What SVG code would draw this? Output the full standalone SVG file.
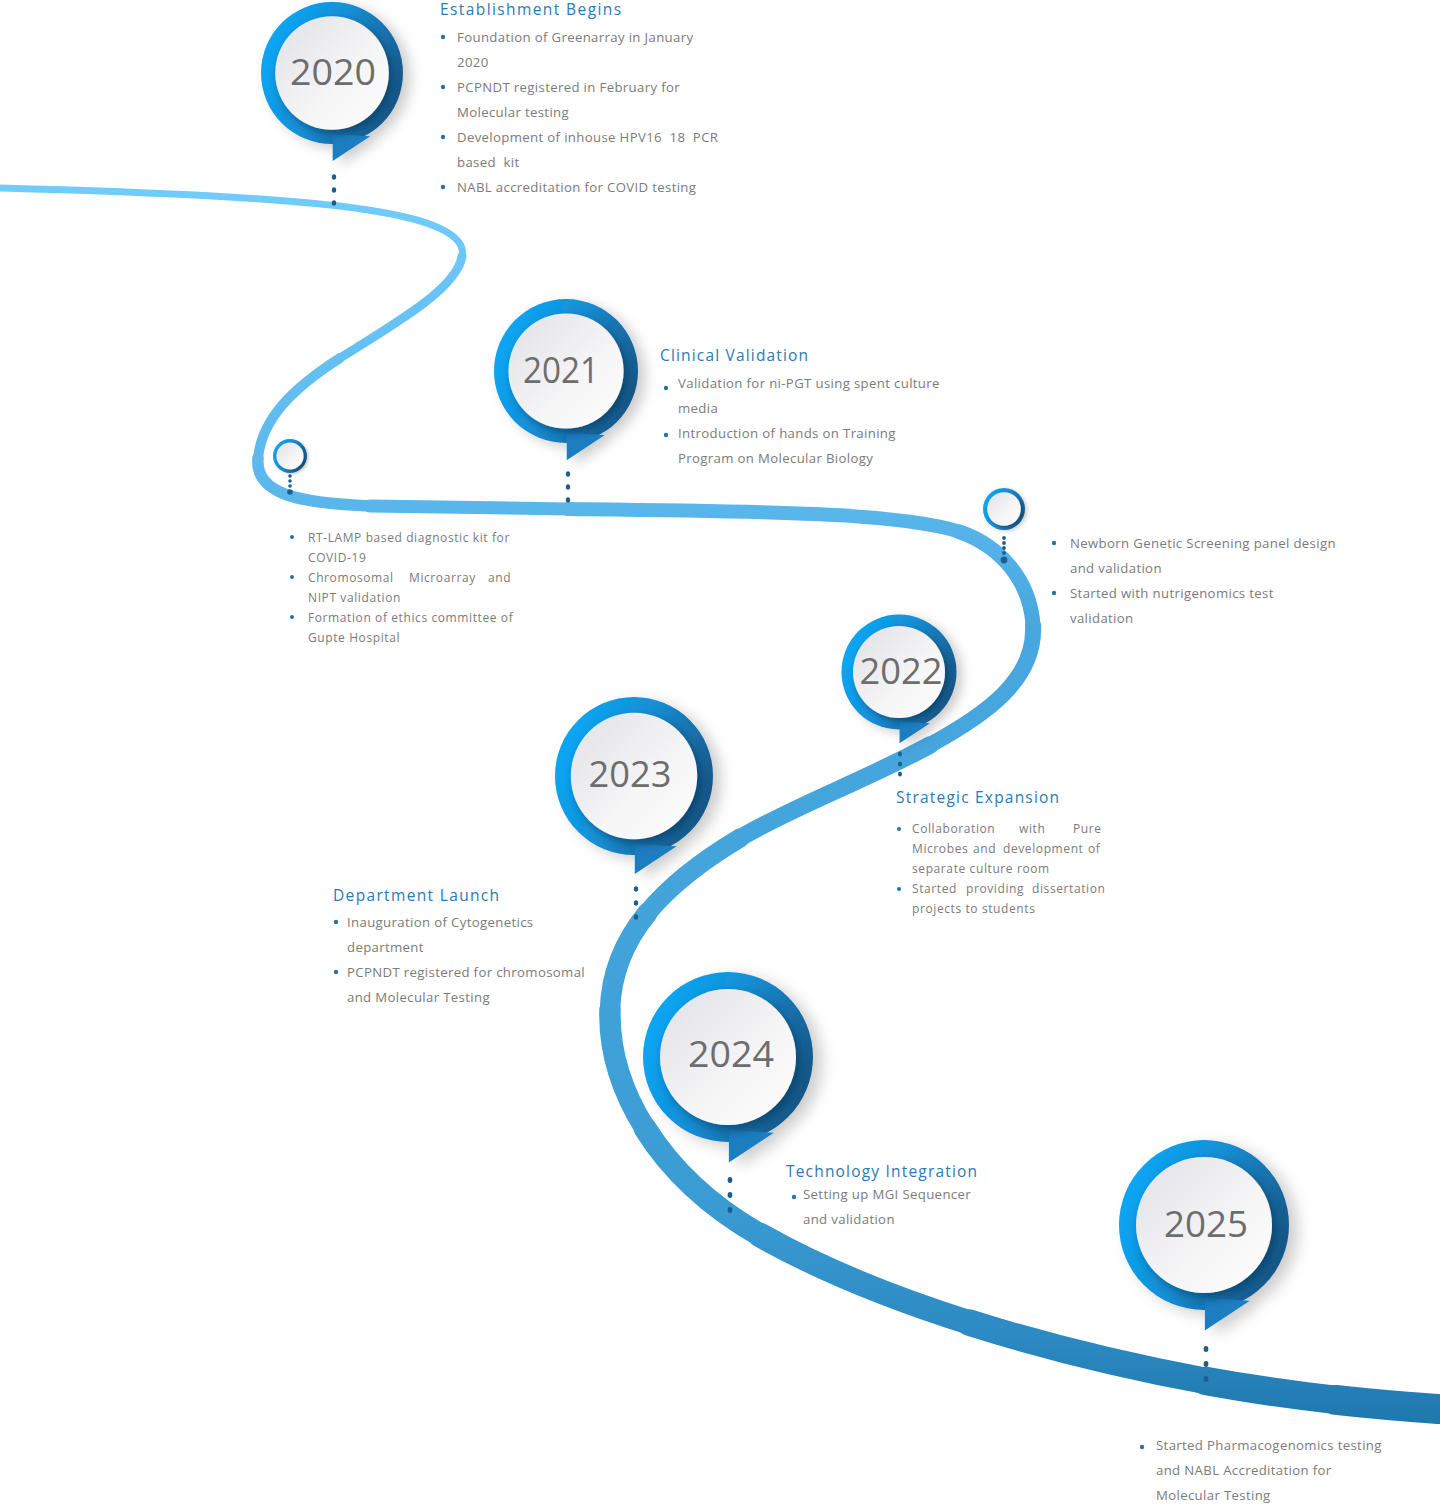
<svg xmlns="http://www.w3.org/2000/svg" xmlns:xlink="http://www.w3.org/1999/xlink" width="1440" height="1508" viewBox="0 0 1440 1508">
<defs>
  <style>
    .title{font-family:"Open Sans","Liberation Sans",sans-serif;font-size:15.5px;fill:#2b7ab4;letter-spacing:0.9px}
    .body{font-family:"Open Sans","Liberation Sans",sans-serif;font-size:13.2px;fill:#7b7b7b;letter-spacing:0.35px}
    .small{font-family:"Open Sans","Liberation Sans",sans-serif;font-size:12px;fill:#7b7b7b;letter-spacing:0.6px}
    .year{font-family:"Open Sans","Liberation Sans",sans-serif;font-size:36px;fill:#6d6d6d;text-anchor:middle}
    .bul{fill:#2472aa}
    .dot{fill:#1e5e8e}
    .road{fill:none;stroke:url(#roadGrad);stroke-linecap:round}
  </style>
  <linearGradient id="roadGrad" gradientUnits="userSpaceOnUse" x1="0" y1="180" x2="0" y2="1420">
    <stop offset="0" stop-color="#72ccfb"/>
    <stop offset="0.266" stop-color="#59b6eb"/>
    <stop offset="0.36" stop-color="#47a7de"/>
    <stop offset="0.6" stop-color="#43a4db"/>
    <stop offset="0.82" stop-color="#3b9cd4"/>
    <stop offset="0.93" stop-color="#2d8ac3"/>
    <stop offset="1" stop-color="#1f78ae"/>
  </linearGradient>
  <linearGradient id="ringGrad" x1="0" y1="0.3" x2="1" y2="0.7">
    <stop offset="0" stop-color="#05a8f7"/>
    <stop offset="0.45" stop-color="#168fd5"/>
    <stop offset="0.75" stop-color="#1a6ea8"/>
    <stop offset="1" stop-color="#155382"/>
  </linearGradient>
  <linearGradient id="faceGrad" x1="0" y1="0" x2="1" y2="1">
    <stop offset="0" stop-color="#e1e1e6"/>
    <stop offset="0.6" stop-color="#f6f6f7"/>
    <stop offset="1" stop-color="#fdfdfd"/>
  </linearGradient>
  <filter id="pinShadow" x="-40%" y="-40%" width="190%" height="190%">
    <feDropShadow dx="10" dy="6" stdDeviation="9" flood-color="#000" flood-opacity="0.2"/>
  </filter>
  <filter id="innerShadow" x="-30%" y="-30%" width="170%" height="170%">
    <feDropShadow dx="5" dy="6" stdDeviation="6" flood-color="#06304f" flood-opacity="0.55"/>
  </filter>
  <g id="pin">
    <g filter="url(#pinShadow)">
      <circle r="100" fill="url(#ringGrad)"/>
      <path d="M1,86 L1,124 L54,89 Z" fill="#1a7ec0"/>
    </g>
    <circle r="80" fill="url(#faceGrad)" filter="url(#innerShadow)"/>
  </g>
  <g id="mini">
    <circle r="100" fill="url(#ringGrad)" filter="url(#pinShadow)"/>
    <circle r="80" fill="url(#faceGrad)" filter="url(#innerShadow)"/>
  </g>
</defs>
<rect width="1440" height="1508" fill="#ffffff"/>

<g id="connectors">
  <path class="road" stroke-width="7" d="M0,188 C150,192 300,198 380,212 C440,222 466,238 462,256"/>
  <path class="road" stroke-width="9" d="M462,256 C458,285 410,315 340,358"/>
  <path class="road" stroke-width="10" d="M340,358 C290,390 262,420 258,458"/>
  <path class="road" stroke-width="11.5" d="M258,458 C255,495 300,503 370,506"/>
  <path class="road" stroke-width="13" d="M370,506 L568,509"/>
  <path class="road" stroke-width="14" d="M568,509 C750,511 900,512 960,532"/>
  <path class="road" stroke-width="15" d="M960,532 C1000,546 1030,580 1033,625"/>
  <path class="road" stroke-width="16" d="M1033,625 C1036,680 985,715 930,745"/>
  <path class="road" stroke-width="17.5" d="M930,745 C870,778 790,808 740,838"/>
  <path class="road" stroke-width="19" d="M740,838 C702.5,860.5 670.5,884.75 647.6,912.75"/>
  <path class="road" stroke-width="20.5" d="M647.6,912.75 C624.75,940.75 611,972.5 610,1010"/>
  <path class="road" stroke-width="21.5" d="M610,1010 C609,1047.5 620.25,1088.75 644.9,1128.1"/>
  <path class="road" stroke-width="23" d="M644.9,1128.1 C669.5,1167.5 707.5,1205 760,1235"/>
  <path class="road" stroke-width="24.5" d="M760,1235 C820,1269 892.5,1298.25 969.5,1322.6"/>
  <path class="road" stroke-width="26.5" d="M969.5,1322.6 C1046.5,1347 1128,1366.5 1206,1381"/>
  <path class="road" stroke-width="28.5" d="M1206,1381 C1253,1389.5 1296.5,1395.5 1335.5,1399.9"/>
  <path class="road" stroke-width="30" stroke-linecap="butt" d="M1335.5,1399.9 C1374.5,1404.25 1409,1407 1438,1409"/>
  <g class="dot">
    <ellipse cx="334" cy="177" rx="2.2" ry="2.8"/><ellipse cx="334" cy="190" rx="2.2" ry="2.8"/><ellipse cx="334" cy="203" rx="2.2" ry="2.8"/>
    <ellipse cx="568" cy="474" rx="2.2" ry="2.8"/><ellipse cx="568" cy="487" rx="2.2" ry="2.8"/><ellipse cx="568" cy="500" rx="2.2" ry="2.8"/>
    <ellipse cx="900" cy="754" rx="2" ry="2.6"/><ellipse cx="900" cy="764" rx="2" ry="2.6"/><ellipse cx="900" cy="774" rx="2" ry="2.6"/>
    <ellipse cx="636" cy="889" rx="2.2" ry="2.8"/><ellipse cx="636" cy="903" rx="2.2" ry="2.8"/><ellipse cx="636" cy="917" rx="2.2" ry="2.8"/>
    <ellipse cx="730" cy="1180" rx="2.4" ry="3"/><ellipse cx="730" cy="1195" rx="2.4" ry="3"/><ellipse cx="730" cy="1210" rx="2.4" ry="3"/>
    <ellipse cx="1206" cy="1349" rx="2.4" ry="3"/><ellipse cx="1206" cy="1364" rx="2.4" ry="3"/><ellipse cx="1206" cy="1379" rx="2.4" ry="3"/>
    <circle cx="290" cy="476" r="1.8"/><circle cx="290" cy="481" r="1.8"/><circle cx="290" cy="486" r="1.8"/><circle cx="290" cy="492" r="2.8"/>
    <circle cx="1004" cy="538" r="1.9"/><circle cx="1004" cy="543" r="1.9"/><circle cx="1004" cy="548" r="1.9"/><circle cx="1004" cy="553" r="1.9"/><circle cx="1004" cy="560" r="3.4"/>
  </g>
</g>

<g id="node-2020">
  <use xlink:href="#pin" href="#pin" transform="translate(332,73) scale(0.71)"/>
  <text class="year" x="333" y="85" textLength="86" lengthAdjust="spacingAndGlyphs">2020</text>
  <text class="title" x="440" y="15" textLength="182">Establishment Begins</text>
  <circle class="bul" cx="443" cy="37" r="2.2"/><circle class="bul" cx="443" cy="87" r="2.2"/><circle class="bul" cx="443" cy="137" r="2.2"/><circle class="bul" cx="443" cy="187" r="2.2"/>
  <text class="body" x="457" y="42">Foundation of Greenarray in January</text>
  <text class="body" x="457" y="67">2020</text>
  <text class="body" x="457" y="92">PCPNDT registered in February for</text>
  <text class="body" x="457" y="117">Molecular testing</text>
  <text class="body" x="457" y="142" xml:space="preserve">Development of inhouse HPV16  18  PCR</text>
  <text class="body" x="457" y="167" xml:space="preserve">based  kit</text>
  <text class="body" x="457" y="192">NABL accreditation for COVID testing</text>
</g>

<g id="node-2020b">
  <use xlink:href="#mini" href="#mini" transform="translate(290,456) scale(0.17)"/>
  <circle class="bul" cx="292" cy="537" r="2"/><circle class="bul" cx="292" cy="577" r="2"/><circle class="bul" cx="292" cy="617" r="2"/>
  <text class="small" x="308" y="542">RT-LAMP based diagnostic kit for</text>
  <text class="small" x="308" y="562">COVID-19</text>
  <text class="small" y="582"><tspan x="308">Chromosomal</tspan><tspan x="409">Microarray</tspan><tspan x="488">and</tspan></text>
  <text class="small" x="308" y="602">NIPT validation</text>
  <text class="small" x="308" y="622">Formation of ethics committee of</text>
  <text class="small" x="308" y="642">Gupte Hospital</text>
</g>

<g id="node-2021">
  <use xlink:href="#pin" href="#pin" transform="translate(566,371) scale(0.72)"/>
  <text class="year" x="561" y="383" textLength="76" lengthAdjust="spacingAndGlyphs">2021</text>
  <text class="title" x="660" y="361" textLength="149">Clinical Validation</text>
  <circle class="bul" cx="666" cy="388" r="2.2"/><circle class="bul" cx="666" cy="435" r="2.2"/>
  <text class="body" x="678" y="388">Validation for ni-PGT using spent culture</text>
  <text class="body" x="678" y="413">media</text>
  <text class="body" x="678" y="438">Introduction of hands on Training</text>
  <text class="body" x="678" y="463">Program on Molecular Biology</text>
</g>

<g id="node-2021b">
  <use xlink:href="#mini" href="#mini" transform="translate(1004,509) scale(0.21)"/>
  <circle class="bul" cx="1054" cy="543" r="2.2"/><circle class="bul" cx="1054" cy="593" r="2.2"/>
  <text class="body" x="1070" y="548">Newborn Genetic Screening panel design</text>
  <text class="body" x="1070" y="573">and validation</text>
  <text class="body" x="1070" y="598">Started with nutrigenomics test</text>
  <text class="body" x="1070" y="623">validation</text>
</g>

<g id="node-2022">
  <use xlink:href="#pin" href="#pin" transform="translate(899,672) scale(0.575)"/>
  <text class="year" x="901" y="684" textLength="83" lengthAdjust="spacingAndGlyphs">2022</text>
  <text class="title" x="896" y="803" textLength="164">Strategic Expansion</text>
  <circle class="bul" cx="899" cy="829" r="2"/><circle class="bul" cx="899" cy="889" r="2"/>
  <text class="small" y="833"><tspan x="912">Collaboration</tspan><tspan x="1019">with</tspan><tspan x="1073">Pure</tspan></text>
  <text class="small" y="853"><tspan x="912">Microbes</tspan><tspan x="973">and</tspan><tspan x="1003">development</tspan><tspan x="1088">of</tspan></text>
  <text class="small" x="912" y="873">separate culture room</text>
  <text class="small" y="893"><tspan x="912">Started</tspan><tspan x="966">providing</tspan><tspan x="1032">dissertation</tspan></text>
  <text class="small" x="912" y="913">projects to students</text>
</g>

<g id="node-2023">
  <use xlink:href="#pin" href="#pin" transform="translate(634,776) scale(0.79)"/>
  <text class="year" x="630" y="787" textLength="83" lengthAdjust="spacingAndGlyphs">2023</text>
  <text class="title" x="333" y="901" textLength="167">Department Launch</text>
  <circle class="bul" cx="336" cy="922" r="2.2"/><circle class="bul" cx="336" cy="972" r="2.2"/>
  <text class="body" x="347" y="927">Inauguration of Cytogenetics</text>
  <text class="body" x="347" y="952">department</text>
  <text class="body" x="347" y="977">PCPNDT registered for chromosomal</text>
  <text class="body" x="347" y="1002">and Molecular Testing</text>
</g>

<g id="node-2024">
  <use xlink:href="#pin" href="#pin" transform="translate(728,1057) scale(0.85)"/>
  <text class="year" x="731" y="1067" textLength="86" lengthAdjust="spacingAndGlyphs">2024</text>
  <text class="title" x="786" y="1177" textLength="192">Technology Integration</text>
  <circle class="bul" cx="794" cy="1197" r="2.2"/>
  <text class="body" x="803" y="1199">Setting up MGI Sequencer</text>
  <text class="body" x="803" y="1224">and validation</text>
</g>

<g id="node-2025">
  <use xlink:href="#pin" href="#pin" transform="translate(1204,1225) scale(0.85)"/>
  <text class="year" x="1206" y="1237" textLength="84" lengthAdjust="spacingAndGlyphs">2025</text>
  <circle class="bul" cx="1142" cy="1447" r="2.2"/>
  <text class="body" x="1156" y="1450">Started Pharmacogenomics testing</text>
  <text class="body" x="1156" y="1475">and NABL Accreditation for</text>
  <text class="body" x="1156" y="1500">Molecular Testing</text>
</g>
</svg>
